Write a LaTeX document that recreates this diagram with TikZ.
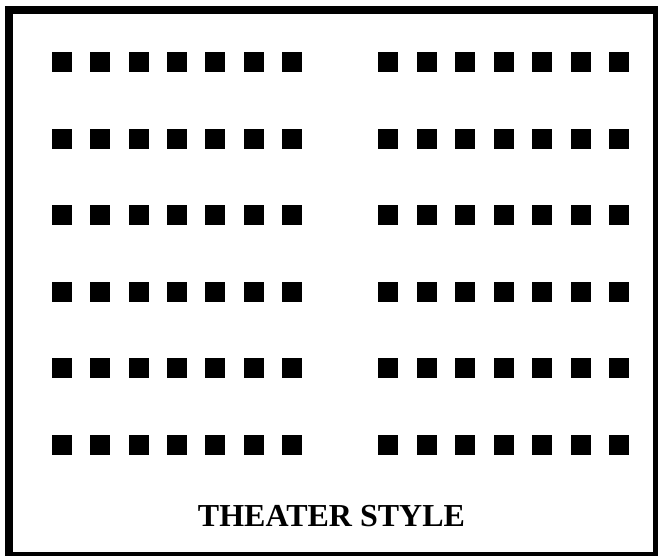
\documentclass[tikz,border=0pt]{standalone}
\usepackage{fontspec}
\setmainfont{Liberation Serif}
\usetikzlibrary{positioning}

\begin{document}
\begin{tikzpicture}[
  x=1pt, y=-1pt,
  seat/.style={rectangle, fill=black, minimum size=20pt, inner sep=0pt},
  hall/.style={draw=black, line width=8pt},
  title/.style={font=\fontsize{32}{38}\selectfont\bfseries, inner sep=0pt, anchor=base},
]
  \useasboundingbox (0,0) rectangle (658,556);

  % Room outline
  \draw[hall] (9,10) rectangle (657,556);

  % Seats: six rows, two blocks of seven
  \foreach \r in {1,...,6} {
    \foreach \c in {1,...,7} {
      \node[seat] (l-\r-\c) at ({62+38.33*(\c-1)}, {62+76.6*(\r-1)}) {};
      \node[seat] (r-\r-\c) at ({388+38.5*(\c-1)}, {62+76.6*(\r-1)}) {};
    }
  }

  % Caption
  \node[title] (caption) at (331.5,526) {THEATER STYLE};
\end{tikzpicture}
\end{document}
